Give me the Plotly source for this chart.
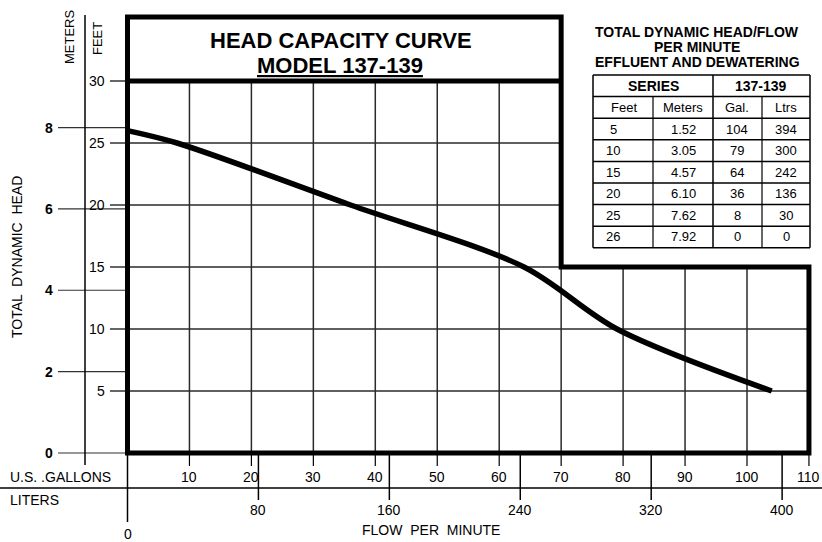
import plotly.graph_objects as go

# ---------------- data (from the reference table / curve) ----------------
feet_tbl = [5, 10, 15, 20, 25, 26]
meters_tbl = ["1.52", "3.05", "4.57", "6.10", "7.62", "7.92"]
gal_tbl = [104, 79, 64, 36, 8, 0]
ltrs_tbl = [394, 300, 242, 136, 30, 0]

gal_ticks = [10, 20, 30, 40, 50, 60, 70, 80, 90, 100, 110]
liter_ticks = [0, 80, 160, 240, 320, 400]
feet_ticks = [5, 10, 15, 20, 25, 30]
meter_ticks = [0, 2, 4, 6, 8]

grid_h_full = [5, 10]          # feet lines across the whole frame
grid_h_part = [15, 20, 25]     # feet lines up to the notch
grid_v_tall = [10, 20, 30, 40, 50, 60]
grid_v_short = [70, 80, 90, 100]

title1 = "HEAD CAPACITY CURVE"
title2 = "MODEL 137-139"
table_title = ["TOTAL DYNAMIC HEAD/FLOW", "PER MINUTE", "EFFLUENT AND DEWATERING"]
table_head1 = ["SERIES", "137-139"]
table_head2 = ["Feet", "Meters", "Gal.", "Ltrs"]

# ---------------- layout constants ----------------
W, H = 822, 542
GX0, GPX = 127.5, 6.195      # pixel of 0 gal, pixels per gallon
FY0, FPX = 453.0, 12.4       # pixel of 0 ft, pixels per foot
L_PER_GAL = 3.78541
M_PER_FT = 0.3048
NOTCH_X, NOTCH_Y, XMAX = 70, 15, 110


def gx(p):
    return (p - GX0) / GPX


def fy(p):
    return (FY0 - p) / FPX


def pxp(p):
    return p / W


def pyp(p):
    return 1 - p / H


xr = [gx(0), gx(W)]
yr = [fy(H), fy(0)]

FONT = "Liberation Sans, Arial, sans-serif"
NARROW = "Liberation Sans Narrow, Arial Narrow, Liberation Sans, Arial, sans-serif"
INK = "black"
GRID = "#2a2a2a"

fig = go.Figure()
fig.add_trace(go.Scatter(
    x=gal_tbl, y=feet_tbl, mode="lines",
    line=dict(color=INK, width=5.5, shape="spline", smoothing=0.9),
    hoverinfo="skip", showlegend=False))
# invisible trace to instantiate the metric axes
fig.add_trace(go.Scatter(x=[liter_ticks[0]], y=[meter_ticks[0]], xaxis="x2", yaxis="y2",
                         mode="markers", marker=dict(opacity=0), hoverinfo="skip",
                         showlegend=False))

shapes = []
ann = []


def line(x0, y0, x1, y1, xref="x", yref="y", color=GRID, width=1.5):
    shapes.append(dict(type="line", x0=x0, y0=y0, x1=x1, y1=y1, xref=xref, yref=yref,
                       line=dict(color=color, width=width), layer="below"))


def text(x, y, s, size=13, xref="paper", yref="paper", xanchor="center", family=FONT,
         angle=0):
    ann.append(dict(x=x, y=y, xref=xref, yref=yref, text=s, showarrow=False,
                    xanchor=xanchor, yanchor="middle", textangle=angle,
                    font=dict(family=family, size=size, color=INK)))


# grid
for f in grid_h_full:
    line(0, f, XMAX, f)
for f in grid_h_part:
    line(0, f, NOTCH_X, f)
for g in grid_v_tall:
    line(g, 0, g, 30)
for g in grid_v_short:
    line(g, 0, g, NOTCH_Y)

# thick frame
ytop = fy(17)
shapes.append(dict(type="path", xref="x", yref="y", layer="below",
                   path=f"M 0,0 L 0,{ytop} L {NOTCH_X},{ytop} L {NOTCH_X},{NOTCH_Y} "
                        f"L {XMAX},{NOTCH_Y} L {XMAX},0 Z",
                   line=dict(color=INK, width=5)))
line(0, 30, NOTCH_X, 30, color=INK, width=5)

# left scales
line(gx(85), fy(15), gx(85), fy(465), color=INK, width=1.5)
for m in meter_ticks:
    line(gx(58), m, gx(125), m, yref="y2", color="#333", width=1.2)
    text(gx(55), m, f"<b>{m}</b>", size=14, xref="x", yref="y2", xanchor="right")
for f in feet_ticks:
    line(gx(110), f, 0, f, color=INK, width=1.2)
    text(gx(107), f, str(f), size=14, xref="x", yref="y", xanchor="right")

text(pxp(70), pyp(37), "METERS", size=13, angle=-90)
text(pxp(97), pyp(39), "FEET", size=13, angle=-90)
text(pxp(17), pyp(257), "TOTAL  DYNAMIC  HEAD", size=14, angle=-90)

# bottom scales
line(gx(0), fy(488), gx(W), fy(488), color=INK, width=1.5)
for g in gal_ticks:
    line(g, 0, g, fy(466), color=INK, width=1.2)
    text(g, fy(477), str(g), size=14, xref="x", yref="y")
for lt in liter_ticks:
    end = fy(522) if lt == 0 else fy(500)
    lab = fy(534) if lt == 0 else fy(510)
    line(lt, 0, lt, end, xref="x2", color=INK, width=1.5)
    text(lt, lab, str(lt), size=14, xref="x2", yref="y")

text(pxp(8), pyp(477), "U.S. .GALLONS", size=14, xanchor="left")
text(pxp(8), pyp(500), "LITERS", size=14, xanchor="left")
text(pxp(431), pyp(530), "FLOW  PER  MINUTE", size=14)

# main title
text(pxp(341), pyp(40), f"<b>{title1}</b>", size=22, family=NARROW)
text(pxp(340), pyp(65), f"<b><u>{title2}</u></b>", size=22, family=NARROW)

# table
for i, s in enumerate(table_title):
    text(pxp(697), pyp(32 + 15 * i), f"<b>{s}</b>", size=14, family=NARROW)

TL, TR = 593, 810
cols = [593, 653, 713, 762, 810]
row_h = 21.6
TT = 75
nrows = 2 + len(feet_tbl)
rows = [TT + row_h * i for i in range(nrows + 1)]
for y in rows:
    line(pxp(TL), pyp(y), pxp(TR), pyp(y), xref="paper", yref="paper", color=INK, width=1.5)
line(pxp(TL), pyp(rows[0]), pxp(TL), pyp(rows[-1]), xref="paper", yref="paper", color=INK, width=1.5)
line(pxp(TR), pyp(rows[0]), pxp(TR), pyp(rows[-1]), xref="paper", yref="paper", color=INK, width=1.5)
line(pxp(cols[2]), pyp(rows[0]), pxp(cols[2]), pyp(rows[-1]), xref="paper", yref="paper", color=INK, width=1.5)
for c in (cols[1], cols[3]):
    line(pxp(c), pyp(rows[1]), pxp(c), pyp(rows[-1]), xref="paper", yref="paper", color=INK, width=1.2)

text(pxp(653), pyp((rows[0] + rows[1]) / 2), f"<b>{table_head1[0]}</b>", size=14, family=NARROW)
text(pxp(761), pyp((rows[0] + rows[1]) / 2), f"<b>{table_head1[1]}</b>", size=14, family=NARROW)
col_cx = [624, 683, 737, 786]
for j, s in enumerate(table_head2):
    text(pxp(col_cx[j]), pyp((rows[1] + rows[2]) / 2), s, size=13, family=NARROW)
data_cx = [613, 683, 737, 786]
for i in range(len(feet_tbl)):
    yc = (rows[2 + i] + rows[3 + i]) / 2
    vals = [feet_tbl[i], meters_tbl[i], gal_tbl[i], ltrs_tbl[i]]
    for j, v in enumerate(vals):
        text(pxp(data_cx[j]), pyp(yc), str(v), size=13, family=NARROW)

fig.update_layout(
    width=W, height=H, margin=dict(l=0, r=0, t=0, b=0),
    paper_bgcolor="white", plot_bgcolor="white", showlegend=False,
    xaxis=dict(range=xr, visible=False, fixedrange=True),
    yaxis=dict(range=yr, visible=False, fixedrange=True),
    xaxis2=dict(range=[xr[0] * L_PER_GAL, xr[1] * L_PER_GAL], overlaying="x",
                anchor="y", visible=False, fixedrange=True),
    yaxis2=dict(range=[yr[0] * M_PER_FT, yr[1] * M_PER_FT], overlaying="y",
                anchor="x", visible=False, fixedrange=True),
    shapes=shapes, annotations=ann,
)

fig.write_html("out.html",
               config={"displayModeBar": False, "staticPlot": True},
               post_script="document.body.style.margin='0';"
                           "document.body.style.overflow='hidden';")
